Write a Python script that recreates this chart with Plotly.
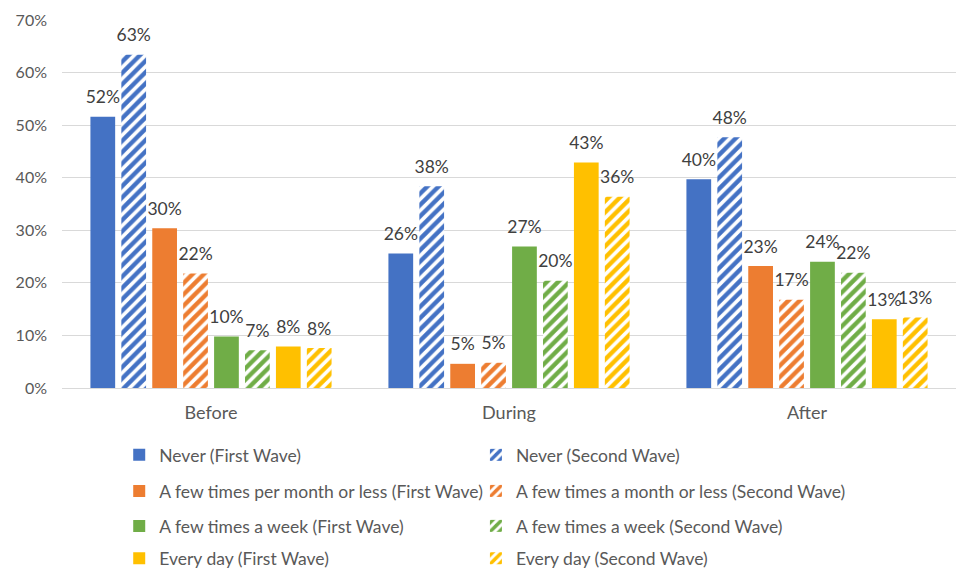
import plotly.graph_objects as go

# Survey periods on the category axis
periods = ["Before", "During", "After"]

# Share of respondents per frequency, first and second wave
never_first = [0.516, 0.256, 0.397]
never_second = [0.634, 0.384, 0.477]
monthly_first = [0.304, 0.046, 0.232]
monthly_second = [0.218, 0.048, 0.168]
weekly_first = [0.098, 0.269, 0.240]
weekly_second = [0.072, 0.204, 0.219]
daily_first = [0.079, 0.429, 0.131]
daily_second = [0.076, 0.364, 0.134]

series = [
    ("Never (First Wave)", never_first, "#4472C4", False),
    ("Never (Second Wave)", never_second, "#4472C4", True),
    ("A few times per month or less (First Wave)", monthly_first, "#ED7D31", False),
    ("A few times a month or less (Second Wave)", monthly_second, "#ED7D31", True),
    ("A few times a week (First Wave)", weekly_first, "#70AD47", False),
    ("A few times a week (Second Wave)", weekly_second, "#70AD47", True),
    ("Every day (First Wave)", daily_first, "#FFC000", False),
    ("Every day (Second Wave)", daily_second, "#FFC000", True),
]

FONT = "Lato"
TEXT = "#595959"
GAP = 0.17

fig = go.Figure()
for i, (name, vals, color, hatched) in enumerate(series):
    legend_id = "legend" if i == 0 else f"legend{i + 1}"
    if hatched:
        marker = dict(
            color="white",
            line=dict(width=0),
            pattern=dict(shape="/", fgcolor=color, bgcolor="white",
                         fgopacity=1, size=8, solidity=0.55),
        )
    else:
        marker = dict(color=color, line=dict(width=0))
    fig.add_trace(go.Bar(
        x=periods, y=vals, name=name, marker=marker,
        offsetgroup=str(i), legend=legend_id,
        hoverinfo="x+y+name",
    ))
    # value labels, grouped the same way as the bars
    fig.add_trace(go.Scatter(
        x=periods, y=vals, mode="markers+text",
        offsetgroup=str(i), showlegend=False, hoverinfo="skip",
        marker=dict(size=13, color="rgba(0,0,0,0)"),
        texttemplate="%{y:.0%}", textposition="top center",
        textfont=dict(family=FONT, size=17.5, color="#404040"),
        cliponaxis=False,
    ))

# Legend laid out as four rows of two entries (one legend box per entry)
row_y = [-0.182, -0.280, -0.375, -0.463]
col_x = [0.064, 0.463]
layout_legends = {}
for i in range(len(series)):
    key = "legend" if i == 0 else f"legend{i + 1}"
    layout_legends[key] = dict(
        x=col_x[i % 2], y=row_y[i // 2],
        xanchor="left", yanchor="middle",
        font=dict(family=FONT, size=17.5, color=TEXT),
        bgcolor="rgba(0,0,0,0)",
    )

fig.update_layout(
    barmode="group",
    bargap=GAP,
    bargroupgap=0.2,
    scattermode="group",
    scattergap=GAP,
    width=958,
    height=570,
    margin=dict(l=62, r=2, t=20, b=182, autoexpand=False),
    paper_bgcolor="white",
    plot_bgcolor="white",
    font=dict(family=FONT, size=16, color=TEXT),
    showlegend=True,
    **layout_legends,
)
fig.update_yaxes(
    range=[0, 0.7], dtick=0.1, tickformat=".0%",
    showgrid=True, gridcolor="#D9D9D9", gridwidth=1,
    zeroline=True, zerolinecolor="#D9D9D9", zerolinewidth=1,
    showline=False, ticks="", ticklabelstandoff=14,
    tickfont=dict(family=FONT, size=16, color=TEXT),
)
fig.update_xaxes(
    showline=False, ticks="", ticklabelstandoff=12,
    tickfont=dict(family=FONT, size=18, color=TEXT),
)

fig.write_html("out.html")
